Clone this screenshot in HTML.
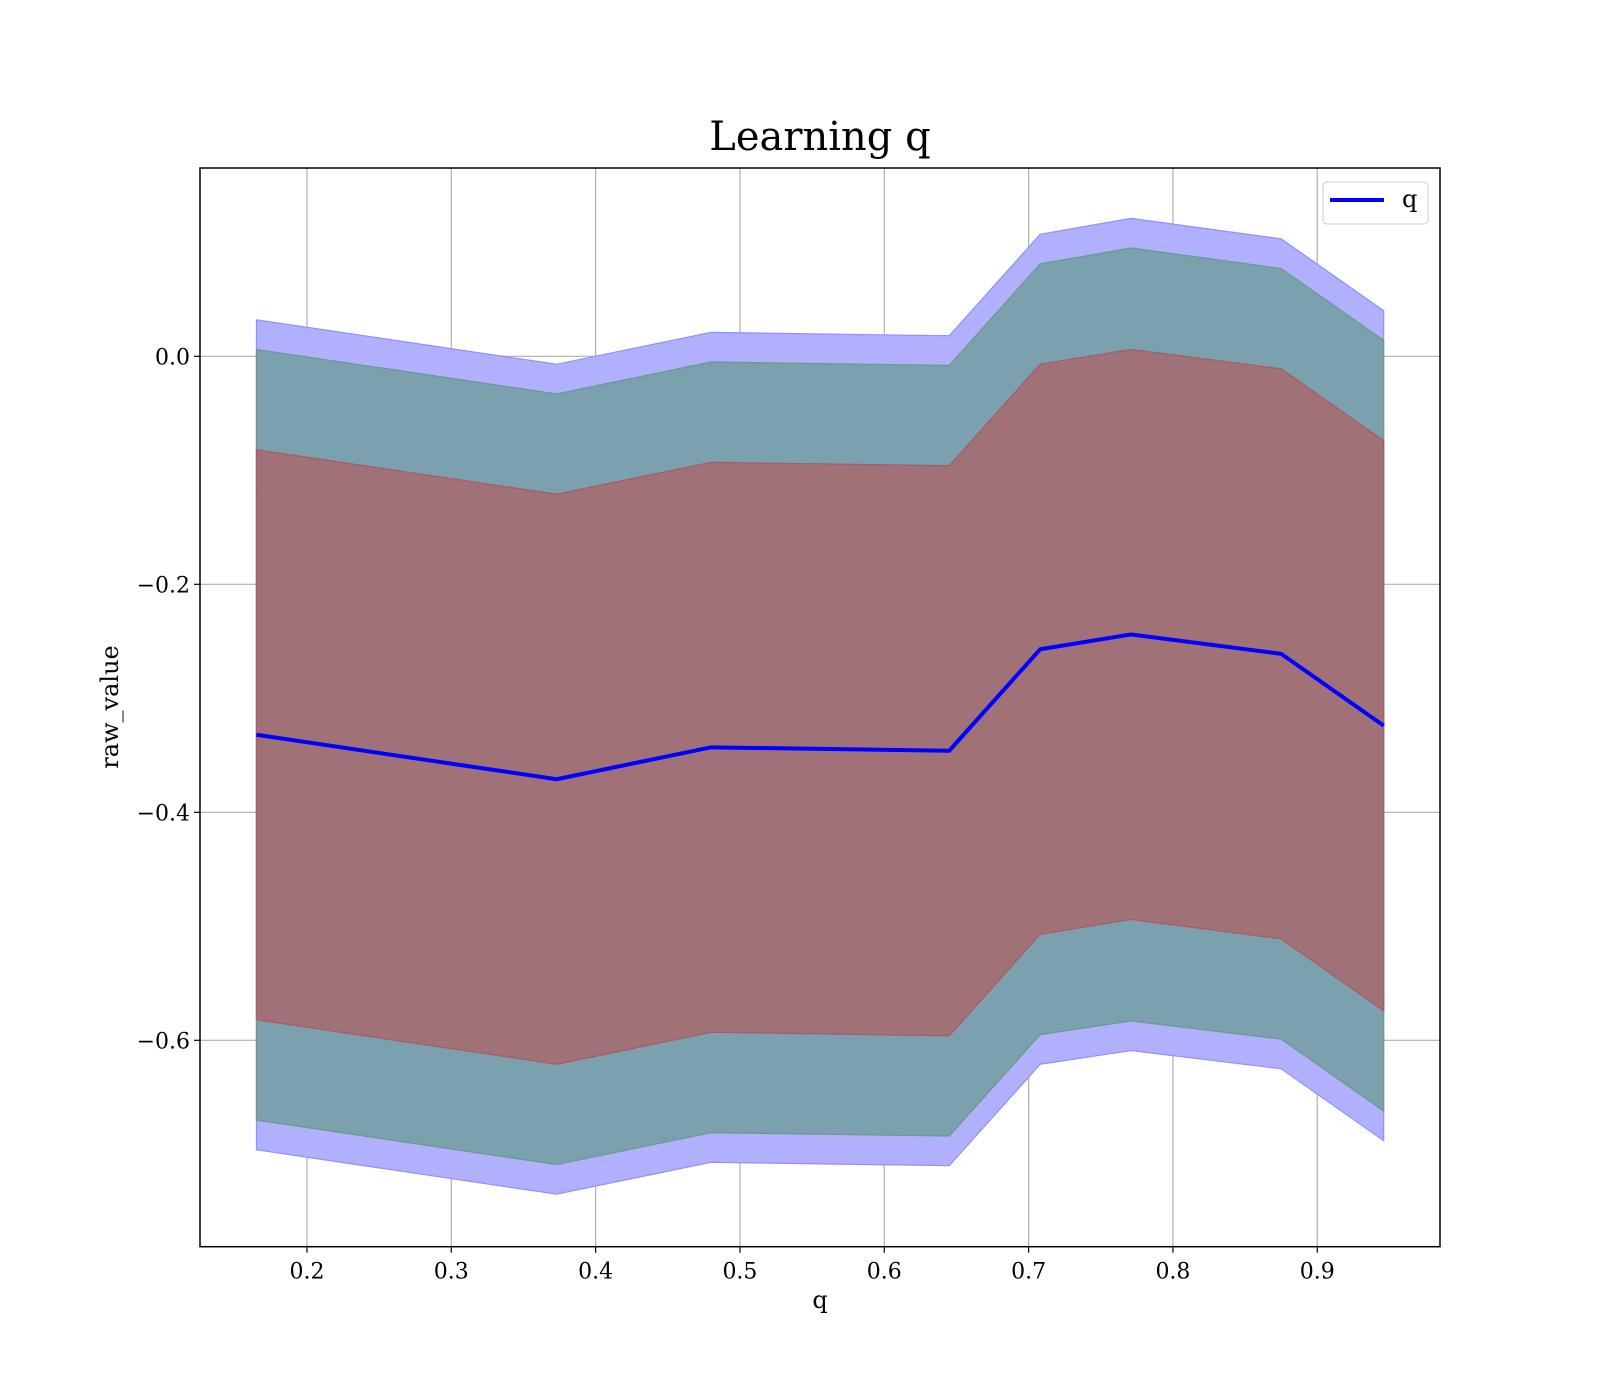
<!DOCTYPE html>
<html><head><meta charset="utf-8"><style>
html,body{margin:0;padding:0;background:#fff;}
svg{display:block;font-family:"DejaVu Serif","Liberation Serif",serif;}
</style></head><body>
<svg id="chart" width="1600" height="1400" viewBox="0 0 1600 1400">
<rect x="0" y="0" width="1600" height="1400" fill="#fff"/>
<text x="820" y="150" font-size="40" text-anchor="middle">Learning q</text>
<g id="grid"></g>
<g id="bands"></g>
<g id="lines"></g>
<rect x="200" y="168" width="1240" height="1078.7" fill="none" stroke="#000" stroke-width="1.5"/>
<g id="ticks"></g>
<text x="820" y="1308" font-size="24" text-anchor="middle">q</text>
<text transform="translate(118,707) rotate(-90)" font-size="24" text-anchor="middle">raw_value</text>
<g>
<rect x="1323" y="182" width="105" height="42" rx="4" fill="#fff" fill-opacity="0.8" stroke="#ccc" stroke-width="1"/>
<line x1="1330" y1="200" x2="1384" y2="200" stroke="#0000ff" stroke-width="4"/>
<text x="1402" y="207" font-size="24">q</text>
</g>
</svg>
<script>
const qValues = [0.165, 0.373, 0.480, 0.645, 0.708, 0.771, 0.875, 0.946];
const meanValues = [-0.332, -0.371, -0.343, -0.346, -0.257, -0.244, -0.261, -0.324];
const innerUpper = [-0.082, -0.121, -0.093, -0.096, -0.007, 0.006, -0.011, -0.074];
const innerLower = [-0.582, -0.621, -0.593, -0.596, -0.507, -0.494, -0.511, -0.574];
const midUpper = [0.006, -0.033, -0.005, -0.008, 0.081, 0.095, 0.077, 0.014];
const midLower = [-0.670, -0.709, -0.681, -0.684, -0.595, -0.583, -0.599, -0.662];
const outerUpper = [0.032, -0.007, 0.021, 0.018, 0.107, 0.121, 0.103, 0.040];
const outerLower = [-0.696, -0.735, -0.707, -0.710, -0.621, -0.609, -0.625, -0.688];
const xTicks = [0.2, 0.3, 0.4, 0.5, 0.6, 0.7, 0.8, 0.9];
const xTickLabels = ["0.2","0.3","0.4","0.5","0.6","0.7","0.8","0.9"];
const yTicks = [0.0, -0.2, -0.4, -0.6];
const yTickLabels = ["0.0","\u22120.2","\u22120.4","\u22120.6"];

const NS = "http://www.w3.org/2000/svg";
const L = 200, R = 1440, T = 168, B = 1246.7;
function xs(v){ return 18.3 + v * 1443.3; }
function ys(v){ return 356.3 - v * 1140; }
function mk(tag, attrs, parent){ const e = document.createElementNS(NS, tag); for (const k in attrs) e.setAttribute(k, attrs[k]); parent.appendChild(e); return e; }

const grid = document.getElementById('grid');
const ticks = document.getElementById('ticks');
xTicks.forEach((t, i) => {
  const x = xs(t);
  const g = mk('line', {x1:x, y1:T, x2:x, y2:B, stroke:'#b0b0b0', 'stroke-width':1.2}, grid);
  
  
  const tk = mk('line', {x1:x, y1:B, x2:x, y2:B+6, stroke:'#000', 'stroke-width':1.2}, ticks);
  
  
  const tx = mk('text', {x:x, y:B+32, 'font-size':22, 'text-anchor':'middle'}, ticks);
  tx.textContent = xTickLabels[i];
  
  
});
yTicks.forEach((t, i) => {
  const y = ys(t);
  const g = mk('line', {x1:L, y1:y, x2:R, y2:y, stroke:'#b0b0b0', 'stroke-width':1.2}, grid);
  
  
  const tk = mk('line', {x1:L-6, y1:y, x2:L, y2:y, stroke:'#000', 'stroke-width':1.2}, ticks);
  
  
  const tx = mk('text', {x:L-10, y:y+8, 'font-size':22, 'text-anchor':'end'}, ticks);
  tx.textContent = yTickLabels[i];
  
  
});

const bands = document.getElementById('bands');
function band(up, lo, fill, stroke, name){
  const pts = [];
  qValues.forEach((q, i) => pts.push(xs(q) + ',' + ys(up[i])));
  for (let i = qValues.length - 1; i >= 0; i--) pts.push(xs(qValues[i]) + ',' + ys(lo[i]));
  const p = mk('polygon', {points: pts.join(' '), fill: fill, stroke: stroke, 'stroke-width': 1.2}, bands);
  
  
}
band(outerUpper, outerLower, '#b0b0ff', '#9090ff', 'outer-band');
band(midUpper, midLower, '#7ba0ae', '#6a9a88', 'middle-band');
band(innerUpper, innerLower, '#a17178', '#a85a66', 'inner-band');

const lines = document.getElementById('lines');
const mp = mk('polyline', {points: qValues.map((q, i) => xs(q) + ',' + ys(meanValues[i])).join(' '), fill:'none', stroke:'#0000ff', 'stroke-width':4, 'stroke-linejoin':'round'}, lines);


</script>
</body></html>
